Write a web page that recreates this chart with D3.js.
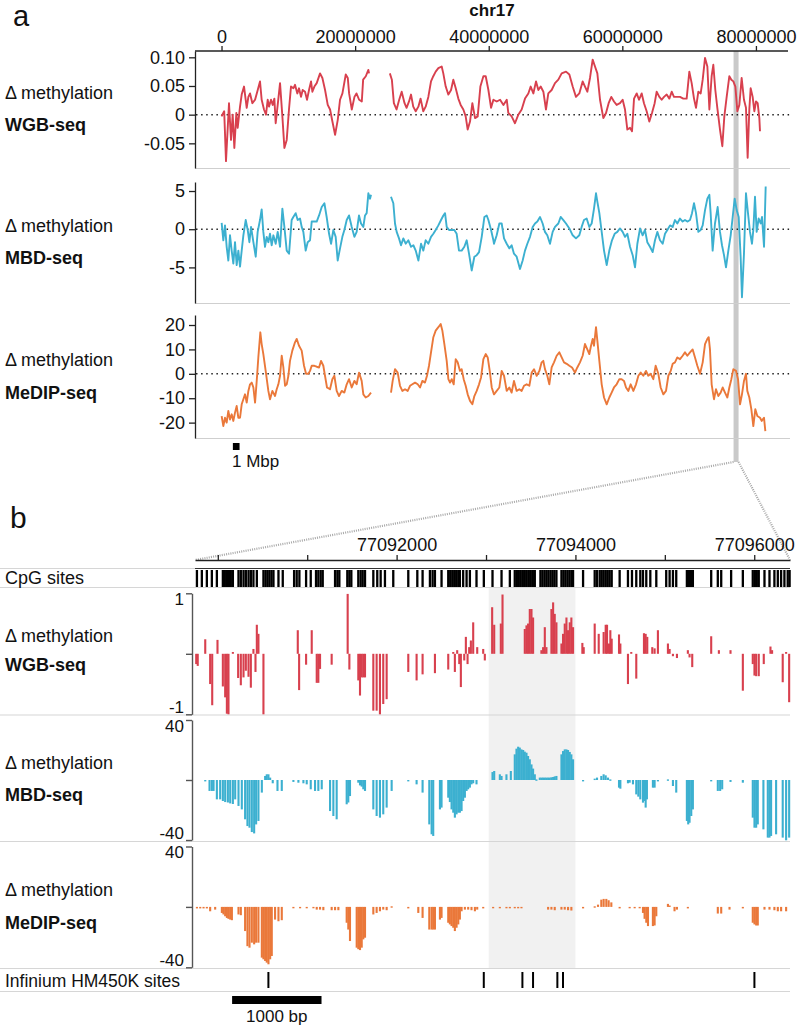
<!DOCTYPE html>
<html><head><meta charset="utf-8">
<script src="https://cdn.jsdelivr.net/npm/d3@7"></script>
<style>
body{margin:0;background:#fff}
svg{display:block}
text{font-family:"Liberation Sans",Arial,Helvetica,sans-serif;fill:#111}
</style>
</head><body>
<svg id="c" width="800" height="1028"></svg>
<script>
// ---------------- DATA: panel a (position in Mbp, delta methylation) ----------------
const chrTicks = [0, 20000000, 40000000, 60000000, 80000000];
const wgbTicksA = [0.10, 0.05, 0, -0.05];
const wgbTickLabelsA = ["0.10", "0.05", "0", "-0.05"];
const mbdTicksA = [5, 0, -5];
const medipTicksA = [20, 10, 0, -10, -20];

const wgbA = [[0.0,-0.003],[0.4,0.006],[0.67,-0.081],[1.12,0.02],[1.42,-0.044],[1.67,0.0],[1.92,-0.058],[2.22,0.003],[2.42,-0.023],[2.77,0.014],[3.02,0.035],[3.37,0.049],[3.77,0.012],[4.02,0.031],[4.27,0.037],[4.62,0.02],[5.02,0.026],[5.37,0.041],[5.76,0.058],[6.01,0.026],[6.36,0.009],[6.66,0.0],[6.91,0.026],[7.11,0.014],[7.41,0.026],[7.66,0.017],[7.91,0.028],[8.11,-0.015],[8.41,0.017],[8.76,0.055],[9.11,-0.003],[9.41,-0.058],[9.76,-0.044],[10.1,0.009],[10.4,0.049],[10.76,0.046],[11.0,0.052],[11.35,0.037],[11.6,0.046],[11.9,0.031],[12.15,0.043],[12.5,0.04],[12.8,0.026],[13.1,0.043],[13.4,0.058],[13.6,0.04],[13.9,0.049],[14.25,0.055],[14.75,0.072],[15.1,0.064],[15.5,0.043],[15.9,0.017],[16.25,0.009],[16.6,-0.012],[17.0,-0.035],[17.4,-0.009],[17.74,0.026],[18.1,0.037],[18.6,0.07],[18.9,0.064],[19.1,0.037],[19.5,0.009],[19.9,0.031],[20.2,0.037],[20.6,0.026],[21.0,0.023],[21.2,0.061],[21.6,0.067],[21.98,0.078],[22.08,0.072],
[23.5,null],
[25.2,0.072],[25.5,0.061],[25.8,0.02],[26.2,0.009],[26.6,0.026],[26.97,0.04],[27.4,0.02],[27.7,0.012],[28.07,0.023],[28.37,0.035],[28.7,0.014],[29.07,0.006],[29.47,0.014],[29.8,0.028],[30.2,0.006],[30.56,0.014],[30.96,0.031],[31.36,0.058],[31.7,0.067],[32.06,0.075],[32.46,0.081],[32.96,0.084],[33.2,0.072],[33.56,0.049],[33.96,0.035],[34.36,0.043],[34.7,0.061],[35.06,0.046],[35.45,0.028],[35.8,0.017],[36.2,0.009],[36.55,-0.003],[36.85,-0.026],[37.2,-0.012],[37.55,0.02],[37.95,-0.006],[38.35,-0.003],[38.75,0.049],[39.2,0.067],[39.55,0.067],[39.95,0.043],[40.35,0.012],[40.7,0.026],[41.2,0.023],[41.7,0.026],[42.2,0.017],[42.7,0.026],[42.93,0.003],[43.43,-0.003],[43.93,-0.015],[44.43,0.0],[44.93,0.009],[45.43,0.028],[45.93,0.037],[46.28,0.049],[46.68,0.037],[47.08,0.058],[47.43,0.043],[47.78,0.049],[48.18,0.04],[48.57,0.009],[48.92,0.037],[49.42,0.043],[49.92,0.055],[50.42,0.061],[50.92,0.072],[51.57,0.075],[52.07,0.07],[52.57,0.049],[53.06,0.031],[53.56,0.037],[54.06,0.058],[54.41,0.049],[54.76,0.04],[55.16,0.064],[55.56,0.096],[55.91,0.084],[56.26,0.072],[56.66,0.026],[57.16,-0.006],[57.56,0.003],[57.95,0.02],[58.35,0.031],[58.75,0.023],[59.15,0.017],[59.65,0.02],[60.05,0.026],[60.4,0.009],[60.75,-0.026],[61.15,-0.023],[61.45,-0.029],[61.75,0.028],[62.15,0.037],[62.5,0.026],[62.9,0.037],[63.24,0.02],[63.64,0.006],[64.04,-0.012],[64.44,0.003],[64.84,0.02],[65.14,0.04],[65.54,0.031],[65.89,0.026],[66.24,0.031],[66.64,0.035],[67.04,0.028],[67.39,0.04],[67.73,0.031],[68.13,0.031],[68.63,0.031],[69.13,0.028],[69.63,0.028],[70.03,0.075],[70.38,0.055],[70.73,0.028],[71.03,0.012],[71.38,0.04],[71.73,0.037],[72.03,0.061],[72.38,0.099],[72.73,0.084],[73.03,0.009],[73.37,0.067],[73.62,0.087],[73.92,0.043],[74.22,0.012],[74.62,-0.026],[74.97,-0.055],[75.27,-0.003],[75.62,0.031],[76.02,0.067],[76.32,0.061],[76.62,0.058],[76.92,0.049],[77.22,0.006],[77.52,0.017],[77.86,0.064],[78.21,0.026],[78.51,0.012],[78.76,-0.075],[79.01,0.009],[79.21,0.046],[79.51,0.031],[79.76,0.006],[80.01,0.023],[80.26,0.02],[80.51,-0.006],[80.61,-0.029]];

const mbdA = [[0.02,0.83],[0.27,-1.45],[0.52,0.5],[0.77,-2.3],[1.02,-4.1],[1.27,-0.8],[1.52,-2.8],[1.77,-4.5],[2.02,-1.7],[2.27,-4.7],[2.52,-2.8],[2.77,-4.9],[3.02,-2.8],[3.27,-0.8],[3.62,1.2],[3.92,-0.1],[4.17,-1.7],[4.42,0.3],[4.77,-1.7],[5.12,-3.6],[5.41,-0.35],[5.76,1.2],[6.01,2.6],[6.26,-0.35],[6.51,-2.3],[6.76,-1.0],[7.01,-1.7],[7.26,-0.6],[7.51,-2.1],[7.76,-0.8],[8.11,-1.9],[8.41,-0.35],[8.76,-2.3],[9.11,2.7],[9.41,0.3],[9.76,-2.8],[10.11,-3.2],[10.5,1.2],[10.75,1.6],[11.1,2.1],[11.4,1.2],[11.75,1.4],[12.0,0.3],[12.25,-0.35],[12.6,-2.8],[12.9,-1.7],[13.25,-1.45],[13.5,1.0],[13.9,1.0],[14.25,1.0],[14.6,1.8],[15.0,2.9],[15.4,3.4],[15.74,1.6],[16.1,-0.6],[16.4,-1.9],[16.74,-0.1],[17.09,-1.0],[17.39,-4.1],[17.74,-2.5],[18.09,-1.0],[18.39,-0.1],[18.74,1.2],[19.09,1.8],[19.49,0.3],[19.89,-1.0],[20.23,-0.35],[20.58,1.8],[20.88,0.75],[21.23,0.3],[21.48,1.8],[21.73,2.1],[21.98,4.7],[22.23,4.0],[22.38,4.5],
[23.8,null],
[25.37,4.25],[25.72,3.4],[25.97,0.75],[26.22,-0.35],[26.57,-1.2],[26.87,-2.1],[27.22,-1.2],[27.57,-1.9],[27.97,-1.45],[28.37,-2.3],[28.72,-2.1],[29.07,-2.8],[29.47,-4.1],[29.87,-1.9],[30.21,-2.8],[30.56,-1.45],[30.96,-1.9],[31.36,-1.0],[31.71,-0.6],[32.06,-0.1],[32.46,0.5],[32.86,1.2],[33.21,1.8],[33.46,2.1],[33.71,0.3],[34.06,-0.1],[34.46,-0.1],[34.85,-0.1],[35.2,-0.6],[35.55,-2.8],[35.95,-2.8],[36.35,-2.3],[36.7,-1.45],[37.05,-3.2],[37.45,-5.4],[37.85,-3.6],[38.2,-3.4],[38.55,-3.0],[38.95,-1.0],[39.35,1.6],[39.7,1.8],[39.95,1.2],[40.35,-0.1],[40.7,-1.45],[40.79,-1.9],[41.19,-0.8],[41.59,0.75],[41.94,0.75],[42.29,-1.2],[42.69,-1.9],[43.08,-2.5],[43.43,-2.1],[43.78,-3.2],[44.18,-3.6],[44.68,-5.2],[45.08,-4.1],[45.43,-2.8],[45.78,-1.9],[46.18,-1.0],[46.58,0.3],[46.93,0.75],[47.28,1.0],[47.68,1.6],[48.07,0.75],[48.42,-0.35],[48.77,-0.8],[49.17,-1.9],[49.57,-0.35],[49.92,0.3],[50.42,0.75],[50.77,1.6],[51.17,1.2],[51.57,0.75],[52.07,0.1],[52.57,-0.8],[53.06,-1.2],[53.56,-0.8],[53.91,0.3],[54.26,1.2],[54.66,1.4],[55.06,0.3],[55.41,0.75],[55.76,2.7],[56.06,4.7],[56.26,3.6],[56.56,2.1],[56.91,-0.35],[57.26,-2.8],[57.66,-4.7],[58.05,-2.8],[58.45,-1.45],[58.85,-0.6],[59.25,-0.35],[59.65,0.1],[60.05,-0.35],[60.4,-1.0],[60.75,-0.6],[61.15,-2.3],[61.55,-3.4],[61.9,-5.0],[62.25,-1.9],[62.65,0.1],[63.04,-0.8],[63.39,-0.1],[63.74,-1.7],[64.14,-2.3],[64.54,-3.0],[64.89,-1.45],[65.24,-0.35],[65.64,-1.45],[66.04,-1.9],[66.39,-0.6],[66.74,-0.1],[67.14,0.5],[67.54,0.3],[67.88,1.2],[68.23,0.75],[68.63,1.4],[69.03,1.0],[69.38,1.2],[69.73,1.0],[70.13,1.2],[70.43,2.1],[70.73,3.4],[71.03,2.1],[71.38,-0.35],[71.73,-0.1],[72.03,0.5],[72.38,2.5],[72.73,4.0],[73.03,4.5],[73.22,2.1],[73.52,-2.8],[73.87,0.75],[74.27,2.9],[74.62,-0.35],[74.92,-2.1],[75.22,-3.4],[75.52,-5.0],[75.87,-2.8],[76.22,-0.8],[76.52,1.6],[76.82,4.0],[77.12,2.5],[77.42,1.6],[77.71,-3.6],[77.91,-8.9],[78.21,-3.2],[78.51,4.7],[78.81,2.1],[79.11,-0.35],[79.41,-1.9],[79.61,-0.1],[79.86,4.25],[80.11,-0.35],[80.41,1.4],[80.71,0.75],[80.91,1.6],[81.21,-2.3],[81.46,5.6]];

const medipA = [[0.02,-17.3],[0.27,-21.4],[0.52,-18.0],[0.77,-20.0],[1.02,-15.2],[1.27,-18.7],[1.52,-16.6],[1.77,-19.3],[2.02,-15.9],[2.27,-13.2],[2.52,-18.0],[2.77,-18.0],[3.02,-12.5],[3.27,-10.4],[3.52,-8.4],[3.77,-11.8],[4.02,-7.0],[4.27,-4.3],[4.52,-3.6],[4.77,-5.6],[5.02,-11.8],[5.27,-2.9],[5.51,6.7],[5.81,17.0],[6.01,12.2],[6.26,8.1],[6.61,1.2],[7.01,-7.0],[7.26,-10.4],[7.61,-7.0],[8.01,-9.1],[8.26,-6.3],[8.51,-4.3],[8.76,-0.8],[9.01,7.4],[9.26,2.6],[9.51,-4.9],[9.76,-4.3],[10.01,-0.8],[10.25,5.3],[10.6,9.5],[11.0,12.9],[11.25,14.3],[11.6,11.5],[12.0,9.5],[12.35,3.3],[12.65,0],[13.0,0],[13.25,1.2],[13.5,3.3],[13.9,3.3],[14.25,2.9],[14.6,2.6],[14.9,5.3],[15.24,3.3],[15.49,-0.8],[15.79,-5.6],[16.24,-6.3],[16.59,-2.2],[16.89,-0.8],[17.24,-7.0],[17.59,-9.1],[17.99,-7.0],[18.39,-7.7],[18.74,-4.3],[19.09,-2.2],[19.49,-5.6],[19.89,-2.9],[20.23,-4.3],[20.58,0.5],[20.98,-2.9],[21.23,-8.4],[21.58,-9.7],[21.98,-9.1],[22.38,-7.7],
[23.8,null],
[25.37,-7.7],[25.62,-2.9],[25.97,1.9],[26.37,0.5],[26.72,-4.9],[27.07,-7.0],[27.47,-6.3],[27.87,-7.0],[28.22,-4.9],[28.57,-4.3],[28.97,-3.6],[29.37,-4.3],[29.72,-5.6],[30.07,-2.9],[30.46,-3.6],[30.76,-0.8],[31.06,3.3],[31.36,8.8],[31.71,15.0],[32.06,17.7],[32.46,19.1],[32.81,20.4],[33.06,17.7],[33.36,12.2],[33.71,5.3],[33.96,-2.2],[34.21,-3.6],[34.46,-2.2],[34.76,-4.3],[35.06,6.0],[35.35,4.7],[35.7,1.2],[35.95,1.9],[36.25,-2.2],[36.55,-4.9],[36.85,-8.4],[37.2,-11.1],[37.55,-12.5],[37.85,-9.1],[38.2,-7.0],[38.55,-4.3],[38.85,-1.5],[39.2,6.0],[39.55,8.1],[39.85,6.7],[40.15,1.2],[40.45,-5.6],[40.7,-7.7],[40.79,-8.4],[41.19,-7.0],[41.59,-5.6],[41.94,1.2],[42.29,-0.8],[42.69,-7.0],[43.08,-5.6],[43.43,-7.7],[43.78,-2.9],[44.18,-7.0],[44.58,-6.3],[44.93,-7.0],[45.28,-4.9],[45.68,-4.3],[46.08,-4.9],[46.43,0.5],[46.78,1.9],[47.18,-0.8],[47.58,1.2],[47.92,4.7],[48.17,5.3],[48.42,1.9],[48.77,-0.8],[49.07,-4.3],[49.42,2.6],[49.77,4.7],[50.17,7.4],[50.57,8.8],[50.92,6.7],[51.27,4.7],[51.67,4.1],[52.07,3.3],[52.47,2.6],[52.91,0.5],[53.26,2.6],[53.66,4.7],[54.06,7.4],[54.41,12.2],[54.76,10.0],[55.06,8.1],[55.31,11.5],[55.56,14.3],[55.76,11.5],[56.06,19.1],[56.26,13.6],[56.56,5.3],[56.91,-4.3],[57.26,-9.7],[57.66,-12.5],[58.05,-9.7],[58.4,-7.7],[58.75,-5.6],[59.15,-4.3],[59.55,-2.2],[59.9,-2.2],[60.25,-2.9],[60.55,-5.6],[60.9,-7.0],[61.25,-4.3],[61.65,-7.0],[62.05,-4.3],[62.4,-0.8],[62.75,0.5],[63.14,-0.8],[63.54,1.2],[63.89,-0.8],[64.24,0],[64.64,-2.2],[64.99,3.3],[65.39,0],[65.74,-5.6],[66.14,-8.4],[66.54,-7.0],[66.89,-0.8],[67.24,1.2],[67.54,4.1],[67.88,4.7],[68.23,6.7],[68.63,6.0],[69.03,7.4],[69.38,8.8],[69.73,7.4],[70.13,8.8],[70.53,10.0],[70.88,6.7],[71.23,3.3],[71.63,0],[72.03,4.7],[72.38,12.2],[72.73,14.3],[72.93,15.0],[73.12,10.0],[73.37,-4.3],[73.72,-10.4],[74.02,-6.3],[74.37,-9.1],[74.72,-7.7],[75.02,-5.6],[75.37,-7.7],[75.72,-9.7],[76.02,-5.6],[76.32,-2.2],[76.62,1.9],[77.02,1.2],[77.32,-2.2],[77.62,-12.5],[77.91,-8.4],[78.21,-2.9],[78.51,0],[78.71,-7.0],[79.01,-9.7],[79.31,-14.5],[79.61,-21.4],[79.91,-14.5],[80.21,-17.3],[80.61,-18.0],[80.86,-19.3],[81.21,-18.0],[81.41,-23.5]];

const zoomRegionA = [76.65, 77.4];   // Mbp, highlighted region
const scaleBarA = [1.7, 2.7];        // Mbp

// ---------------- DATA: panel b (genomic position bp, value) ----------------
const posTicksB = [77090000, 77091000, 77092000, 77093000, 77094000, 77095000, 77096000];
const posLabelsB = [77092000, 77094000, 77096000];
const highlightB = [77093030, 77094000];
const scaleBarB = [77090160, 77091160];

const cpgSites = [77089766,77089821,77089877,77089933,77089989,77090056,77090078,77090101,77090123,77090145,77090168,77090231,77090257,77090287,77090313,77090343,77090369,77090398,77090436,77090510,77090533,77090555,77090577,77090600,77090622,77090678,77090726,77090853,77090882,77090912,77090987,77091039,77091098,77091124,77091150,77091173,77091311,77091337,77091359,77091448,77091471,77091493,77091571,77091597,77091620,77091646,77091739,77091783,77091821,77091869,77091962,77092130,77092231,77092290,77092372,77092402,77092428,77092502,77092577,77092599,77092622,77092644,77092666,77092689,77092707,77092744,77092782,77092819,77092893,77092975,77093072,77093173,77093266,77093321,77093344,77093366,77093388,77093411,77093433,77093455,77093478,77093500,77093523,77093545,77093608,77093630,77093653,77093675,77093697,77093720,77093742,77093764,77093787,77093843,77093865,77093887,77093910,77093932,77093954,77093973,77094085,77094215,77094241,77094271,77094293,77094315,77094338,77094360,77094382,77094405,77094494,77094587,77094632,77094680,77094725,77094755,77094792,77094837,77094904,77095015,77095053,77095090,77095127,77095246,77095269,77095291,77095313,77095518,77095592,77095630,77095741,77095872,77095983,77096006,77096028,77096050,77096114,77096170,77096225,77096263,77096300,77096337,77096374,77096395];

const wgbB = [[77089758,-0.17],[77089775,-0.2],[77089859,0.24],[77089914,-0.5],[77089937,-0.85],[77089996,0.23],[77090056,-0.54],[77090082,-0.72],[77090101,-0.99],[77090119,-1.0],[77090168,0.03],[77090227,-0.4],[77090257,-0.52],[77090287,-0.39],[77090313,-0.28],[77090343,-0.38],[77090369,-0.56],[77090398,0.08],[77090421,-0.3],[77090436,0.48],[77090454,0.33],[77090510,-1.0],[77090894,0.39],[77090909,-0.6],[77090987,-0.18],[77091050,0.39],[77091106,-0.48],[77091124,-0.48],[77091143,-0.25],[77091273,-0.18],[77091452,0.99],[77091471,-0.26],[77091571,-0.44],[77091590,-0.69],[77091609,-0.39],[77091627,-0.39],[77091646,-0.39],[77091739,-0.94],[77091776,-0.94],[77091813,-1.0],[77091850,-0.83],[77091888,-0.75],[77092130,-0.3],[77092223,-0.44],[77092290,-0.34],[77092428,-0.32],[77092577,-0.26],[77092633,0.03],[77092651,-0.3],[77092677,0.06],[77092700,-0.17],[77092718,-0.55],[77092756,-0.11],[77092774,0.28],[77092793,-0.17],[77092811,0.11],[77092830,0.22],[77092856,0.52],[77092901,0.11],[77092968,0.08],[77092986,-0.11],[77093068,0.77],[77093091,0.48],[77093165,0.5],[77093184,0.98],[77093433,0.41],[77093452,0.47],[77093470,0.5],[77093489,0.74],[77093508,0.74],[77093526,0.6],[77093619,0.06],[77093638,0.11],[77093657,0.44],[77093675,0.11],[77093731,0.74],[77093750,0.85],[77093768,0.66],[77093787,0.52],[77093843,0.17],[77093861,0.33],[77093880,0.5],[77093899,0.6],[77093917,0.39],[77093936,0.52],[77093954,0.6],[77093973,0.44],[77094077,0.18],[77094092,0.11],[77094215,0.5],[77094260,0.33],[77094315,0.36],[77094338,0.48],[77094353,0.48],[77094375,0.17],[77094390,0.39],[77094405,0.25],[77094487,0.32],[77094502,0.17],[77094587,-0.5],[77094624,0.03],[77094680,-0.41],[77094766,0.34],[77094785,0.33],[77094803,0.28],[77094859,0.11],[77094885,0.09],[77094922,0.39],[77095034,0.17],[77095053,0.08],[77095090,-0.04],[77095135,-0.07],[77095257,0.06],[77095276,-0.06],[77095306,-0.22],[77095518,0.29],[77095604,0.06],[77095734,0.06],[77095872,-0.61],[77095983,-0.17],[77096002,-0.36],[77096021,-0.37],[77096050,-0.37],[77096106,-0.17],[77096181,0.12],[77096199,0.06],[77096318,-0.47],[77096356,0.03],[77096390,-0.8]];

const mbdB = [[77089859,-0.5],[77089907,-7.3],[77089933,-7.3],[77089952,-7.3],[77089989,-12.9],[77090026,-12.9],[77090056,-14],[77090082,-14.7],[77090112,-15],[77090138,-15.6],[77090168,-16],[77090194,-12.9],[77090231,-17.3],[77090268,-19.6],[77090305,-26.2],[77090331,-30.7],[77090354,-31.8],[77090380,-34.7],[77090406,-35.6],[77090428,-29.6],[77090454,-27.3],[77090492,-8.4],[77090529,2.7],[77090547,3.8],[77090566,3.8],[77090585,1.6],[77090614,-2.2],[77090667,-7.3],[77090715,-7.3],[77090845,-1.3],[77090901,-1.8],[77090957,-2.2],[77090994,-2.9],[77091039,-6.2],[77091087,-7.3],[77091124,-7.3],[77091162,-6.2],[77091255,-20.7],[77091292,-24],[77091329,-26.2],[77091441,-16.2],[77091459,-15],[77091478,-10.7],[77091571,-1.8],[77091590,-3.6],[77091609,-4.4],[77091627,-6.2],[77091646,-7.3],[77091739,-19.6],[77091776,-24],[77091813,-25.1],[77091850,-22.9],[77091888,-18.4],[77091944,-7.3],[77092130,-0.7],[77092223,-2.9],[77092290,-8.4],[77092365,-29.6],[77092391,-36.2],[77092409,-37.3],[77092484,-19.6],[77092502,-18.4],[77092577,-11.8],[77092595,-14.7],[77092614,-19.6],[77092633,-21.8],[77092651,-25.1],[77092670,-22.9],[77092689,-21.8],[77092707,-21.8],[77092726,-20.7],[77092744,-14],[77092763,-11.8],[77092782,-7.3],[77092800,-6.2],[77092819,-5.1],[77092837,-2.9],[77092856,-2.2],[77092893,-2.9],[77093072,5.3],[77093091,6.0],[77093154,3.8],[77093173,2.7],[77093228,3.8],[77093277,6.0],[77093321,17.1],[77093340,20.9],[77093359,22.2],[77093377,21.6],[77093396,20.4],[77093415,20.0],[77093433,18.9],[77093452,18.2],[77093470,16.0],[77093489,13.8],[77093508,10.4],[77093526,7.6],[77093545,3.8],[77093563,0.4],[77093601,1.6],[77093620,1.6],[77093638,1.6],[77093657,1.6],[77093675,1.6],[77093694,1.6],[77093712,1.6],[77093731,1.8],[77093750,2.0],[77093768,2.4],[77093787,2.7],[77093843,17.1],[77093861,19.3],[77093880,20.4],[77093899,20.4],[77093917,20.0],[77093936,18.7],[77093954,17.1],[77093973,13.8],[77094085,-0.7],[77094215,0.9],[77094241,1.6],[77094289,2.7],[77094315,3.8],[77094338,3.1],[77094364,1.6],[77094390,0.4],[77094487,-5.1],[77094502,-5.8],[77094587,-2.2],[77094606,-1.8],[77094643,-2.9],[77094680,-9.6],[77094703,-11.1],[77094725,-12.9],[77094755,-15.1],[77094773,-14],[77094785,-18.4],[77094799,-12.9],[77094866,-5.1],[77094885,-5.1],[77094922,-0.7],[77095034,0.4],[77095090,-4.0],[77095127,-8.4],[77095246,-27.3],[77095261,-29.6],[77095276,-28.5],[77095295,-24],[77095313,-19.6],[77095518,-0.7],[77095592,-7.3],[77095618,-7.3],[77095641,-6.2],[77095734,-1.3],[77095872,-1.8],[77095983,-25.1],[77096002,-31.8],[77096021,-31.8],[77096039,-29.6],[77096102,-32.9],[77096151,-38.4],[77096170,-38.4],[77096188,-37.3],[77096244,-36.2],[77096318,-38.4],[77096356,-40.2],[77096390,-38.4]];

const medipB = [[77089766,-1],[77089803,-1],[77089840,-1],[77089877,-1],[77089914,-2.9],[77089970,-1.8],[77090045,-4],[77090063,-5],[77090082,-6.2],[77090101,-7.3],[77090119,-7.9],[77090138,-8.4],[77090157,-8.8],[77090231,-5],[77090257,-5.5],[77090305,-16],[77090331,-26],[77090354,-27],[77090380,-23.7],[77090406,-24.8],[77090428,-23.7],[77090454,-23.7],[77090492,-33.6],[77090510,-34.7],[77090529,-35.8],[77090547,-36.9],[77090566,-38],[77090585,-34.7],[77090603,-32.5],[77090640,-8.4],[77090678,-9.5],[77090715,-8.8],[77090845,-0.5],[77090920,-0.5],[77090994,-0.5],[77091069,-0.7],[77091106,-1.8],[77091143,-1.8],[77091180,-2.2],[77091273,-2.2],[77091311,-2.2],[77091348,-2.2],[77091441,-10.5],[77091459,-15],[77091478,-22.6],[77091553,-27],[77091571,-28],[77091590,-28.6],[77091609,-27],[77091627,-21.5],[77091646,-20.4],[77091739,-5],[77091776,-4],[77091813,-2.9],[77091850,-1.8],[77091888,-2.2],[77091944,0.4],[77092130,-1.0],[77092242,-4.0],[77092290,-7.3],[77092365,-15],[77092391,-15],[77092409,-15],[77092428,-15],[77092484,-8.4],[77092502,-7.3],[77092577,-10.5],[77092595,-11.6],[77092614,-12.7],[77092633,-13.8],[77092651,-16],[77092670,-13.8],[77092689,-11.6],[77092707,-8.4],[77092726,-2.9],[77092763,-1.8],[77092800,-1.8],[77092837,-2.2],[77092875,-2.9],[77092901,-1.8],[77092968,-1.0],[77093079,-0.5],[77093154,-0.5],[77093228,-0.5],[77093266,-0.5],[77093321,-0.5],[77093359,-0.5],[77093396,-0.5],[77093694,-1.8],[77093731,-1.8],[77093768,-2.2],[77093843,-1.8],[77093880,-1.8],[77093917,-2.2],[77093954,-2.4],[77094085,-1.0],[77094215,0.4],[77094252,1.5],[77094289,4.8],[77094315,5.3],[77094345,5.3],[77094371,4.4],[77094401,3.0],[77094494,-1.0],[77094606,-0.5],[77094662,-0.5],[77094718,-0.5],[77094755,-4.0],[77094773,-7.9],[77094792,-10.5],[77094811,-12.7],[77094866,-12.7],[77094885,-12.3],[77094904,-6.2],[77095034,2.0],[77095053,0.9],[77095108,-2.9],[77095135,-1.8],[77095257,-1.0],[77095592,-4.4],[77095630,-4.4],[77095723,-1.8],[77095872,-1.0],[77095983,-10.5],[77096002,-11.6],[77096021,-12.3],[77096039,-12.3],[77096114,-1.8],[77096170,-1.8],[77096225,-2.2],[77096263,-2.9],[77096300,-2.9],[77096356,-2.9]];

const infiniumSites = [77090566, 77092975, 77093407, 77093526, 77093798, 77093861, 77096002];

const COLORS = {wgb: "#d8404e", mbd: "#3cb0d0", medip: "#ea783a"};

// ---------------- DRAW ----------------
const svg = d3.select("#c");
const FONT = 18;

// ===== Panel a =====
const xA = d3.scaleLinear().domain([-3.97e6, 85.1e6]).range([195, 790]);

svg.append("text").attr("x", 13).attr("y", 26).attr("font-size", 29).text("a");
svg.append("text").attr("x", 492).attr("y", 16).attr("text-anchor", "middle")
  .attr("font-size", 17).attr("font-weight", "bold").text("chr17");

// zoom band (under lines)
svg.append("rect").attr("x", xA(zoomRegionA[0]*1e6)).attr("y", 51)
  .attr("width", xA(zoomRegionA[1]*1e6) - xA(zoomRegionA[0]*1e6)).attr("height", 411)
  .attr("fill", "#c9c9c9");

const topAxis = svg.append("g").attr("transform", "translate(0,51)")
  .call(d3.axisTop(xA).tickValues(chrTicks).tickFormat(d3.format("d")).tickSize(5).tickSizeOuter(0).tickPadding(3));
topAxis.selectAll("text").attr("font-size", FONT).attr("fill", "#111").attr("font-family", '"Liberation Sans",Arial,sans-serif');
topAxis.selectAll("path,line").attr("stroke", "#222").attr("stroke-width", 1.3);
topAxis.select("path").attr("d", "M195,0H788");

const panelsA = [
  {name: "WGB-seq", data: wgbA, color: COLORS.wgb, top: 51, bottom: 168, dom: [-0.093, 0.111], ticks: wgbTicksA, labels: wgbTickLabelsA, l1: 99, l2: 131},
  {name: "MBD-seq", data: mbdA, color: COLORS.mbd, top: 182, bottom: 303, dom: [-9.66, 6.18], ticks: mbdTicksA, labels: mbdTicksA.map(String), l1: 232, l2: 264},
  {name: "MeDIP-seq", data: medipA, color: COLORS.medip, top: 315, bottom: 438, dom: [-26.3, 24.1], ticks: medipTicksA, labels: medipTicksA.map(String), l1: 366, l2: 399}
];

panelsA.forEach(p => {
  const y = d3.scaleLinear().domain(p.dom).range([p.bottom, p.top]);
  svg.append("line").attr("x1", 195).attr("x2", 790).attr("y1", p.bottom + 0.5).attr("y2", p.bottom + 0.5)
    .attr("stroke", "#cfcfcf").attr("stroke-width", 1.2);
  svg.append("line").attr("x1", 196).attr("x2", 790).attr("y1", y(0)).attr("y2", y(0))
    .attr("stroke", "#222").attr("stroke-width", 1.5).attr("stroke-dasharray", "1.5,3.6");
  const ax = svg.append("g").attr("transform", "translate(195,0)")
    .call(d3.axisLeft(y).tickValues(p.ticks).tickFormat((d, i) => p.labels[i]).tickSize(6).tickSizeOuter(0).tickPadding(4));
  ax.selectAll("text").attr("font-size", FONT).attr("fill", "#111").attr("font-family", '"Liberation Sans",Arial,sans-serif');
  ax.selectAll("path,line").attr("stroke", "#222").attr("stroke-width", 1.3);
  const line = d3.line().defined(d => d[1] !== null).x(d => xA(d[0] * 1e6)).y(d => y(d[1]));
  svg.append("path").attr("d", line(p.data)).attr("fill", "none").attr("stroke", p.color)
    .attr("stroke-width", 1.9).attr("stroke-linejoin", "round");
  svg.append("text").attr("x", 5).attr("y", p.l1).attr("font-size", FONT).text("\u0394 methylation");
  svg.append("text").attr("x", 5).attr("y", p.l2).attr("font-size", FONT).attr("font-weight", "bold").text(p.name);
});

// scale bar a
svg.append("rect").attr("x", xA(scaleBarA[0]*1e6)).attr("y", 443)
  .attr("width", xA(scaleBarA[1]*1e6) - xA(scaleBarA[0]*1e6)).attr("height", 7).attr("fill", "#000");
svg.append("text").attr("x", 232).attr("y", 467).attr("font-size", 17).text("1 Mbp");

// ===== connectors =====
const xB = d3.scaleLinear().domain([77089745, 77096400]).range([195, 790]);
svg.append("line").attr("x1", xA(zoomRegionA[0]*1e6)).attr("y1", 462).attr("x2", 195).attr("y2", 560)
  .attr("stroke", "#a8a8a8").attr("stroke-width", 2.2).attr("stroke-dasharray", "1,1.2");
svg.append("line").attr("x1", xA(zoomRegionA[1]*1e6)).attr("y1", 462).attr("x2", 790).attr("y2", 560)
  .attr("stroke", "#a8a8a8").attr("stroke-width", 2.2).attr("stroke-dasharray", "1,1.2");

// ===== Panel b =====
svg.append("text").attr("x", 10).attr("y", 528).attr("font-size", 30).text("b");

svg.append("rect").attr("x", xB(highlightB[0])).attr("y", 587.5)
  .attr("width", xB(highlightB[1]) - xB(highlightB[0])).attr("height", 381).attr("fill", "#f1f1f1");

const bAxis = svg.append("g").attr("transform", "translate(0,560)")
  .call(d3.axisTop(xB).tickValues(posTicksB).tickFormat(d => posLabelsB.includes(d) ? d : "").tickSize(5).tickSizeOuter(0).tickPadding(4));
bAxis.selectAll("text").attr("font-size", FONT).attr("fill", "#111").attr("font-family", '"Liberation Sans",Arial,sans-serif');
bAxis.selectAll("path,line").attr("stroke", "#222").attr("stroke-width", 1.3);

[568.5, 587.5, 715, 841.5, 968.5, 991.5].forEach(yv => {
  svg.append("line").attr("x1", 0).attr("x2", 790).attr("y1", yv).attr("y2", yv)
    .attr("stroke", "#d6d6d6").attr("stroke-width", 1.2);
});
svg.append("line").attr("x1", 195).attr("x2", 790).attr("y1", 568.5).attr("y2", 568.5)
  .attr("stroke", "#333").attr("stroke-width", 1.2);

svg.append("text").attr("x", 5).attr("y", 584).attr("font-size", FONT).text("CpG sites");
svg.append("g").selectAll("rect").data(cpgSites).join("rect")
  .attr("x", d => xB(d) - 1.1).attr("width", 2.3).attr("y", 570).attr("height", 17).attr("fill", "#000");

const panelsB = [
  {name: "WGB-seq", data: wgbB, color: COLORS.wgb, top: 593.3, bottom: 714.3, dom: [-1, 1], tl: "1", bl: "-1", l1: 642, l2: 671},
  {name: "MBD-seq", data: mbdB, color: COLORS.mbd, top: 720, bottom: 840, dom: [-40, 40], tl: "40", bl: "-40", l1: 769, l2: 801},
  {name: "MeDIP-seq", data: medipB, color: COLORS.medip, top: 846.5, bottom: 967.3, dom: [-40, 40], tl: "40", bl: "-40", l1: 896, l2: 929}
];

panelsB.forEach(p => {
  const y = d3.scaleLinear().domain(p.dom).range([p.bottom, p.top]);
  const ax = svg.append("g").attr("transform", "translate(192,0)")
    .call(d3.axisLeft(y).tickValues([p.dom[1], 0, p.dom[0]]).tickFormat("").tickSize(6).tickSizeOuter(0));
  ax.selectAll("path,line").attr("stroke", "#555").attr("stroke-width", 1.4);
  svg.append("text").attr("x", 184).attr("y", p.top + 11.5).attr("text-anchor", "end").attr("font-size", 17).text(p.tl);
  svg.append("text").attr("x", 184).attr("y", p.bottom - 1.5).attr("text-anchor", "end").attr("font-size", 17).text(p.bl);
  svg.append("g").selectAll("rect").data(p.data).join("rect")
    .attr("x", d => xB(d[0]) - 1).attr("width", 2.1)
    .attr("y", d => Math.min(y(0), y(d[1])))
    .attr("height", d => Math.max(1.4, Math.abs(y(d[1]) - y(0))))
    .attr("fill", p.color);
  svg.append("text").attr("x", 5).attr("y", p.l1).attr("font-size", FONT).text("\u0394 methylation");
  svg.append("text").attr("x", 5).attr("y", p.l2).attr("font-size", FONT).attr("font-weight", "bold").text(p.name);
});

svg.append("text").attr("x", 5).attr("y", 986.5).attr("font-size", 17.5).text("Infinium HM450K sites");
svg.append("g").selectAll("line").data(infiniumSites).join("line")
  .attr("x1", d => xB(d)).attr("x2", d => xB(d)).attr("y1", 972).attr("y2", 988)
  .attr("stroke", "#000").attr("stroke-width", 2);

svg.append("rect").attr("x", xB(scaleBarB[0])).attr("y", 996)
  .attr("width", xB(scaleBarB[1]) - xB(scaleBarB[0])).attr("height", 8).attr("fill", "#000");
svg.append("text").attr("x", (xB(scaleBarB[0]) + xB(scaleBarB[1])) / 2).attr("y", 1022)
  .attr("text-anchor", "middle").attr("font-size", 17).text("1000 bp");
</script>
</body></html>
